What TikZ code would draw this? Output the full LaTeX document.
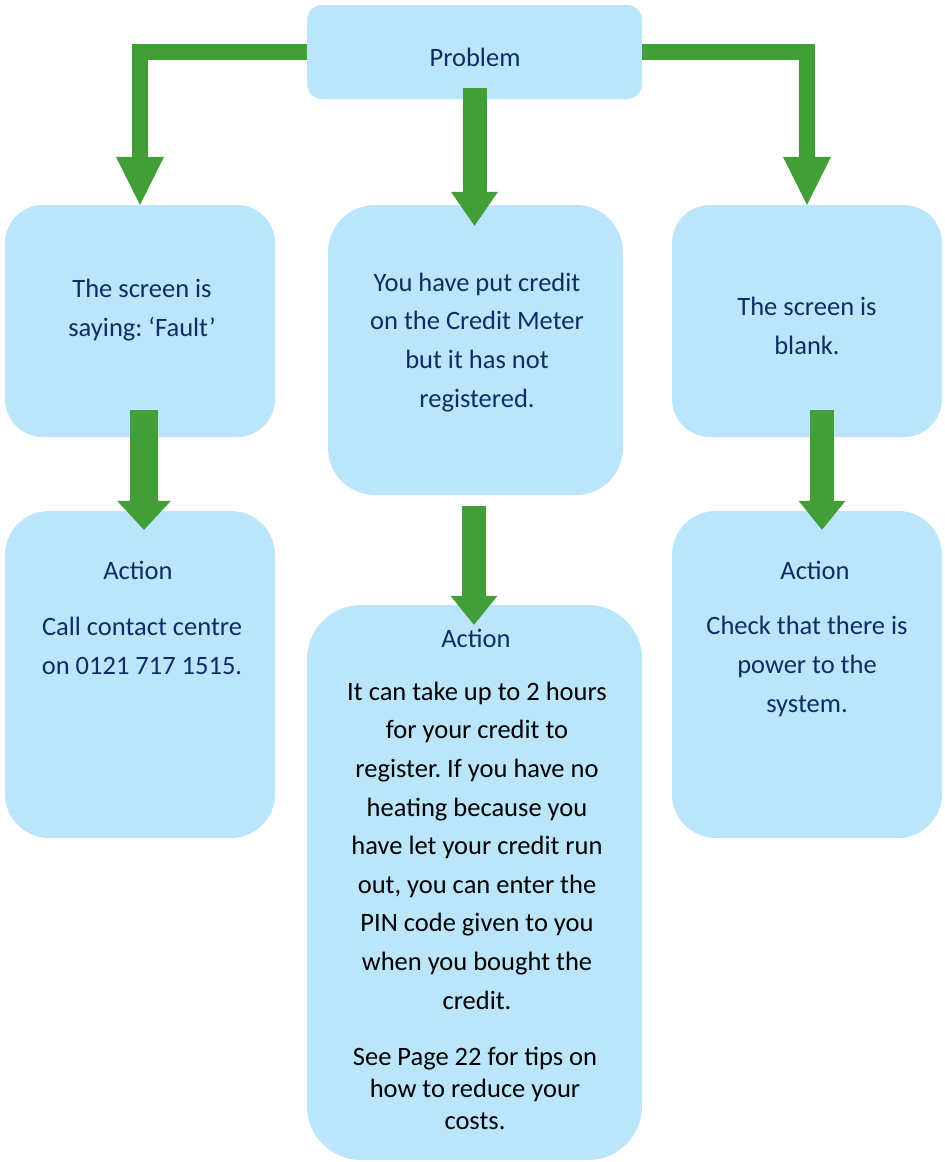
\documentclass[tikz,border=0pt]{standalone}
\usepackage{fontspec}
\setmainfont{Carlito}
\usetikzlibrary{positioning,calc,arrows.meta}
\definecolor{boxblue}{RGB}{186,229,251}
\definecolor{arrowgreen}{RGB}{66,158,54}
\definecolor{navy}{RGB}{15,45,100}
\frenchspacing

\begin{document}
\begin{tikzpicture}[
    x=1pt,
    y=-1pt,
    every node/.style={font=\fontsize{26.5}{38.6}\selectfont},
    box/.style={
        fill=boxblue,
        inner sep=0pt
    },
    caption/.style={
        text=navy,
        align=center,
        anchor=base,
        inner sep=0pt
    },
    flowarrow/.style n args={3}{
        draw=arrowgreen,
        line width=#1,
        -{Triangle[width=#2,length=#3,line width=0pt]}
    }
]

\useasboundingbox (0,0) rectangle (945,1162);

\node[
    box,
    minimum width=335pt,
    minimum height=94pt,
    rounded corners=15pt
] (problem) at (474.5,52) {};

\node[
    box,
    minimum width=270pt,
    minimum height=232pt,
    rounded corners=38pt
] (fault) at (140,321) {};

\node[
    box,
    minimum width=295pt,
    minimum height=290pt,
    rounded corners=47pt
] (credit) at (475.5,350) {};

\node[
    box,
    minimum width=270pt,
    minimum height=232pt,
    rounded corners=38pt
] (blank) at (807,321) {};

\node[
    box,
    minimum width=270pt,
    minimum height=327pt,
    rounded corners=44pt
] (call) at (140,674.5) {};

\node[
    box,
    minimum width=335pt,
    minimum height=555pt,
    rounded corners=54pt
] (tips) at (474.5,882.5) {};

\node[
    box,
    minimum width=270pt,
    minimum height=327pt,
    rounded corners=44pt
] (power) at (807,674.5) {};

% base anchor sits on the last line of each text
\node[caption] (problemtext) at (475,66) {Problem};

\node[caption] (faulttext) at (142,336)
{The screen is\\saying: ‘Fault’};

\node[caption] (credittext) at (477,407)
{You have put credit\\on the Credit Meter\\but it has not\\registered.};

\node[caption] (blanktext) at (807,354)
{The screen is\\blank.};

\node[caption] (callhead) at (138,579) {Action};

\node[caption] (calltext) at (142,674)
{Call contact centre\\on 0121 717 1515.};

\node[caption] (tipshead) at (476,647) {Action};

\node[caption, text=black] (tipstext) at (477,1009)
{It can take up to 2 hours\\for your credit to\\register. If you have no\\heating because you\\have let your credit run\\out, you can enter the\\PIN code given to you\\when you bought the\\credit.};

\node[
    caption,
    text=black,
    font=\fontsize{26.5}{32}\selectfont
] (tipsnote) at (475,1129)
{See Page 22 for tips on\\how to reduce your\\costs.};

\node[caption] (powerhead) at (815,579) {Action};

\node[caption] (powertext) at (807,712)
{Check that there is\\power to the\\system.};

\draw[flowarrow={16pt}{48pt}{48pt}]
(problem.west) -| (fault.north);

\draw[flowarrow={16pt}{48pt}{48pt}]
(problem.east) -| (blank.north);

\draw[flowarrow={24pt}{47pt}{34pt}]
($(problem.south)+(0,-11)$) -- ($(problem.south |- credit.north)+(0,21)$);

\draw[flowarrow={28pt}{54pt}{29pt}]
($(fault.south)+(4,-27)$) -- ($(call.north)+(4,19)$);

\draw[flowarrow={24pt}{47pt}{29pt}]
($(credit.south)+(-1.5,11)$) -- ($(tips.north)+(-0.5,20)$);

\draw[flowarrow={24pt}{47pt}{29pt}]
($(blank.south)+(15,-27)$) -- ($(power.north)+(15,19)$);

\end{tikzpicture}
\end{document}
